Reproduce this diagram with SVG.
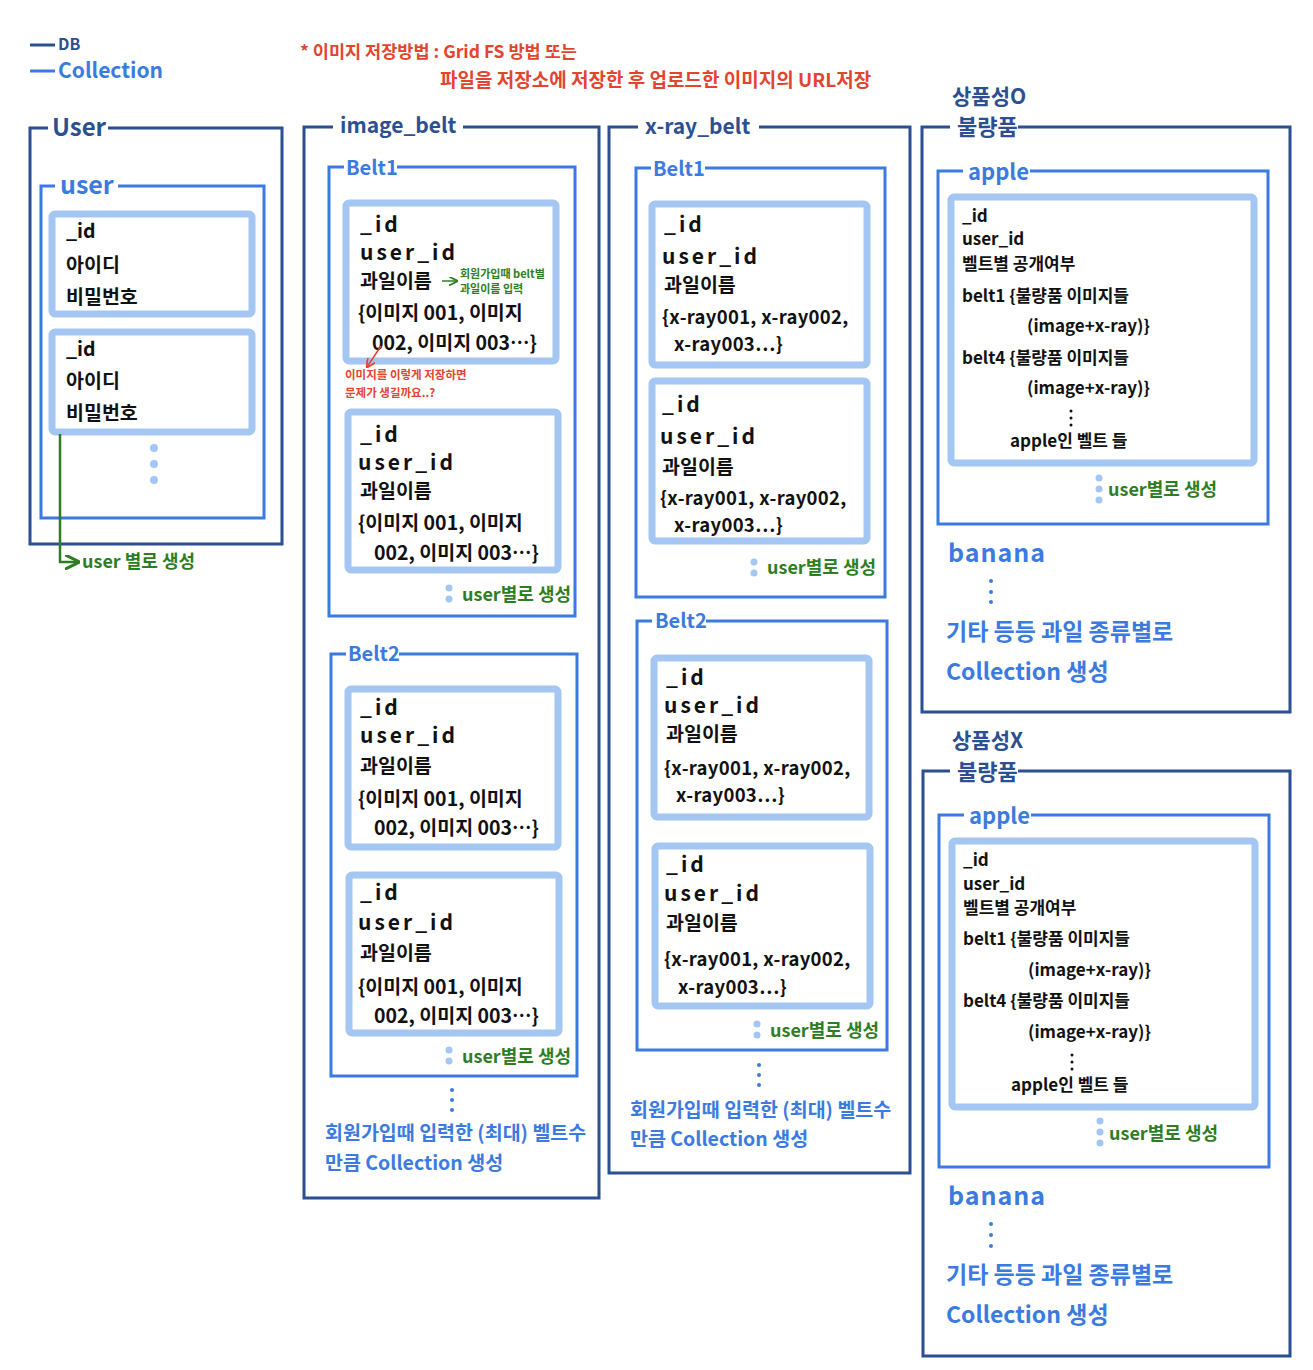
<svg xmlns="http://www.w3.org/2000/svg" width="1313" height="1370" viewBox="0 0 1313 1370">
<style>
text{font-family:"Noto Sans CJK KR","Noto Sans",sans-serif;font-weight:700}
.db{fill:none;stroke:#2b4f90;stroke-width:3}
.col{fill:none;stroke:#3b7be0;stroke-width:3}
.doc{fill:#fff;stroke:#a4c6f3;stroke-width:7}
.dbt{fill:#2b4f90;font-size:22px}
.colt{fill:#3b7be0;font-size:20px}
.k{fill:#111;font-size:19.5px}
.kb{fill:#111;font-size:21px;letter-spacing:3px}
.ks{fill:#111;font-size:17px}
.kx{fill:#111;font-size:18.5px;letter-spacing:0.3px}
.g{fill:#2e7d22;font-size:18px}
.r{fill:#e2452f}
.b{fill:#3b7be0}
.dot{fill:#a4c6f3}
.bd{fill:#3b7be0}
</style>
<defs>
<marker id="ag" viewBox="0 0 10 10" refX="9" refY="5" markerWidth="6" markerHeight="6" orient="auto"><path d="M0,0 L10,5 L0,10" fill="none" stroke="#2e7d22" stroke-width="2"/></marker>
<marker id="ar" viewBox="0 0 10 10" refX="9" refY="5" markerWidth="6" markerHeight="6" orient="auto"><path d="M0,0 L10,5 L0,10" fill="none" stroke="#e2452f" stroke-width="2"/></marker>
</defs>
<rect width="1313" height="1370" fill="#fff"/>

<!-- legend -->
<g id="legend">
<line x1="30" y1="45" x2="55" y2="45" stroke="#2b4f90" stroke-width="3"/>
<text x="58" y="50" class="dbt" style="font-size:16px">DB</text>
<line x1="30" y1="71" x2="55" y2="71" stroke="#3b7be0" stroke-width="3"/>
<text x="58" y="78" class="b" style="font-size:21px">Collection</text>
</g>
<g id="note">
<text x="300" y="58" class="r" style="font-size:17.5px">* 이미지 저장방법 : Grid FS 방법 또는</text>
<text x="440" y="87" class="r" style="font-size:19px">파일을 저장소에 저장한 후 업로드한 이미지의 URL저장</text>
</g>

<!-- User DB -->
<g id="User">
<path class="db" d="M108,128 H282 V544 H30 V128 H48"/>
<text x="52" y="136" class="dbt" style="font-size:24px">User</text>
<g id="user">
<path class="col" d="M118,186 H264 V518 H41 V186 H55"/>
<text x="60" y="194" class="colt" style="font-size:25px">user</text>
<g id="user-doc1"><rect class="doc" x="52" y="214" width="200" height="100" rx="3"/>
<text x="66" y="238" class="k">_id</text><text x="66" y="272" class="k">아이디</text><text x="66" y="304" class="k">비밀번호</text></g>
<g id="user-doc2"><rect class="doc" x="52" y="332" width="200" height="100" rx="3"/>
<text x="66" y="356" class="k">_id</text><text x="66" y="388" class="k">아이디</text><text x="66" y="420" class="k">비밀번호</text></g>
<circle class="dot" cx="154" cy="448" r="4"/><circle class="dot" cx="154" cy="464" r="4"/><circle class="dot" cx="154" cy="480" r="4"/>
</g>
</g>

<!-- image_belt DB -->
<g id="image_belt">
<path class="db" d="M463,127 H599 V1198 H304 V127 H333"/>
<text x="340" y="133" class="dbt" style="font-size:21px">image_belt</text>
<g id="ib-belt1">
<path class="col" d="M397,167 H575 V616 H329 V167 H344"/>
<text x="346" y="175" class="colt">Belt1</text>
<g id="ib-b1-doc1"><rect class="doc" x="346" y="203" width="210" height="158" rx="3"/>
<text x="360" y="232" class="kb">_id</text><text x="360" y="260" class="kb">user_id</text><text x="360" y="288" class="k">과일이름</text>
<text x="358" y="320" class="k">{이미지 001, 이미지</text><text x="372" y="350" class="k">002, 이미지 003…}</text></g>
<text x="460" y="278" class="g" style="font-size:11px">회원가입때 belt별</text>
<text x="460" y="293" class="g" style="font-size:11px">과일이름 입력</text>
<text x="345" y="379" class="r" style="font-size:11.5px">이미지를 이렇게 저장하면</text>
<text x="345" y="397" class="r" style="font-size:11.5px">문제가 생길까요..?</text>
<g id="ib-b1-doc2"><rect class="doc" x="348" y="412" width="210" height="158" rx="3"/>
<text x="360" y="442" class="kb">_id</text><text x="358" y="470" class="kb">user_id</text><text x="360" y="498" class="k">과일이름</text>
<text x="358" y="530" class="k">{이미지 001, 이미지</text><text x="374" y="560" class="k">002, 이미지 003…}</text></g>
<circle class="dot" cx="449" cy="588" r="3.5"/><circle class="dot" cx="449" cy="599" r="3.5"/>
<text x="462" y="601" class="g">user별로 생성</text>
</g>
<g id="ib-belt2">
<path class="col" d="M399,654 H577 V1076 H331 V654 H346"/>
<text x="348" y="661" class="colt">Belt2</text>
<g id="ib-b2-doc1"><rect class="doc" x="348" y="689" width="210" height="158" rx="3"/>
<text x="360" y="715" class="kb">_id</text><text x="360" y="743" class="kb">user_id</text><text x="360" y="773" class="k">과일이름</text>
<text x="358" y="806" class="k">{이미지 001, 이미지</text><text x="374" y="835" class="k">002, 이미지 003…}</text></g>
<g id="ib-b2-doc2"><rect class="doc" x="349" y="875" width="210" height="158" rx="3"/>
<text x="360" y="900" class="kb">_id</text><text x="358" y="930" class="kb">user_id</text><text x="360" y="960" class="k">과일이름</text>
<text x="358" y="994" class="k">{이미지 001, 이미지</text><text x="374" y="1023" class="k">002, 이미지 003…}</text></g>
<circle class="dot" cx="449" cy="1050" r="3.5"/><circle class="dot" cx="449" cy="1061" r="3.5"/>
<text x="462" y="1063" class="g">user별로 생성</text>
</g>
<circle class="bd" cx="452" cy="1090" r="2"/><circle class="bd" cx="452" cy="1100" r="2"/><circle class="bd" cx="452" cy="1110" r="2"/>
<text x="325" y="1140" class="b" style="font-size:19.5px">회원가입때 입력한 (최대) 벨트수</text>
<text x="325" y="1170" class="b" style="font-size:19.5px">만큼 Collection 생성</text>
</g>

<!-- x-ray_belt DB -->
<g id="x-ray_belt">
<path class="db" d="M759,127 H910 V1173 H609 V127 H638"/>
<text x="645" y="134" class="dbt" style="font-size:21px">x-ray_belt</text>
<g id="xb-belt1">
<path class="col" d="M705,168 H885 V597 H636 V168 H651"/>
<text x="653" y="176" class="colt">Belt1</text>
<g id="xb-b1-doc1"><rect class="doc" x="652" y="204" width="215" height="161" rx="3"/>
<text x="664" y="232" class="kb">_id</text><text x="662" y="264" class="kb">user_id</text><text x="664" y="292" class="k">과일이름</text>
<text x="662" y="324" class="kx">{x-ray001, x-ray002,</text><text x="674" y="351" class="kx">x-ray003…}</text></g>
<g id="xb-b1-doc2"><rect class="doc" x="652" y="381" width="215" height="160" rx="3"/>
<text x="662" y="412" class="kb">_id</text><text x="660" y="444" class="kb">user_id</text><text x="662" y="474" class="k">과일이름</text>
<text x="660" y="505" class="kx">{x-ray001, x-ray002,</text><text x="674" y="532" class="kx">x-ray003…}</text></g>
<circle class="dot" cx="754" cy="562" r="3.5"/><circle class="dot" cx="754" cy="573" r="3.5"/>
<text x="767" y="574" class="g">user별로 생성</text>
</g>
<g id="xb-belt2">
<path class="col" d="M706,621 H887 V1050 H637 V621 H652"/>
<text x="655" y="628" class="colt">Belt2</text>
<g id="xb-b2-doc1"><rect class="doc" x="654" y="658" width="215" height="159" rx="3"/>
<text x="666" y="685" class="kb">_id</text><text x="664" y="713" class="kb">user_id</text><text x="666" y="741" class="k">과일이름</text>
<text x="664" y="775" class="kx">{x-ray001, x-ray002,</text><text x="676" y="802" class="kx">x-ray003…}</text></g>
<g id="xb-b2-doc2"><rect class="doc" x="655" y="846" width="215" height="160" rx="3"/>
<text x="666" y="872" class="kb">_id</text><text x="664" y="901" class="kb">user_id</text><text x="666" y="930" class="k">과일이름</text>
<text x="664" y="966" class="kx">{x-ray001, x-ray002,</text><text x="678" y="994" class="kx">x-ray003…}</text></g>
<circle class="dot" cx="757" cy="1024" r="3.5"/><circle class="dot" cx="757" cy="1035" r="3.5"/>
<text x="770" y="1037" class="g">user별로 생성</text>
</g>
<circle class="bd" cx="759" cy="1065" r="2"/><circle class="bd" cx="759" cy="1075" r="2"/><circle class="bd" cx="759" cy="1085" r="2"/>
<text x="630" y="1117" class="b" style="font-size:19.5px">회원가입때 입력한 (최대) 벨트수</text>
<text x="630" y="1146" class="b" style="font-size:19.5px">만큼 Collection 생성</text>
</g>

<!-- 상품성O 불량품 DB -->
<g id="good-defect">
<path class="db" d="M1018,127 H1290 V712 H922 V127 H950"/>
<text x="952" y="104" class="dbt" style="font-size:21px">상품성O</text>
<text x="957" y="135" class="dbt" style="font-size:22px">불량품</text>
<g id="g-apple">
<path class="col" d="M1030,171 H1268 V524 H938 V171 H963"/>
<text x="968" y="180" class="colt" style="font-size:22px">apple</text>
<g id="g-apple-doc"><rect class="doc" x="951" y="197" width="303" height="266" rx="3"/>
<text x="962" y="222" class="ks">_id</text><text x="962" y="245" class="ks">user_id</text><text x="962" y="270" class="ks">벨트별 공개여부</text>
<text x="962" y="302" class="ks">belt1 {불량품 이미지들</text><text x="1027" y="332" class="ks">(image+x-ray)}</text>
<text x="962" y="364" class="ks">belt4 {불량품 이미지들</text><text x="1027" y="394" class="ks">(image+x-ray)}</text>
<circle cx="1071" cy="411" r="1.5" fill="#111"/><circle cx="1071" cy="418" r="1.5" fill="#111"/><circle cx="1071" cy="425" r="1.5" fill="#111"/>
<text x="1010" y="447" class="ks">apple인 벨트 들</text></g>
<circle class="dot" cx="1099" cy="478" r="3.5"/><circle class="dot" cx="1099" cy="489" r="3.5"/><circle class="dot" cx="1099" cy="500" r="3.5"/>
<text x="1108" y="496" class="g">user별로 생성</text>
</g>
<text x="948" y="562" class="b" style="font-size:25px;letter-spacing:1px">banana</text>
<circle class="bd" cx="991" cy="581" r="2"/><circle class="bd" cx="991" cy="592" r="2"/><circle class="bd" cx="991" cy="602" r="2"/>
<text x="946" y="640" class="b" style="font-size:23px">기타 등등 과일 종류별로</text>
<text x="946" y="680" class="b" style="font-size:23px">Collection 생성</text>
</g>

<!-- 상품성X 불량품 DB -->
<g id="bad-defect">
<path class="db" d="M1018,771 H1290 V1356 H923 V771 H950"/>
<text x="952" y="748" class="dbt" style="font-size:21px">상품성X</text>
<text x="957" y="780" class="dbt" style="font-size:22px">불량품</text>
<g id="b-apple">
<path class="col" d="M1031,815 H1269 V1167 H939 V815 H964"/>
<text x="969" y="824" class="colt" style="font-size:22px">apple</text>
<g id="b-apple-doc"><rect class="doc" x="952" y="841" width="303" height="266" rx="3"/>
<text x="963" y="866" class="ks">_id</text><text x="963" y="890" class="ks">user_id</text><text x="963" y="914" class="ks">벨트별 공개여부</text>
<text x="963" y="945" class="ks">belt1 {불량품 이미지들</text><text x="1028" y="976" class="ks">(image+x-ray)}</text>
<text x="963" y="1007" class="ks">belt4 {불량품 이미지들</text><text x="1028" y="1038" class="ks">(image+x-ray)}</text>
<circle cx="1072" cy="1055" r="1.5" fill="#111"/><circle cx="1072" cy="1062" r="1.5" fill="#111"/><circle cx="1072" cy="1069" r="1.5" fill="#111"/>
<text x="1011" y="1091" class="ks">apple인 벨트 들</text></g>
<circle class="dot" cx="1100" cy="1121" r="3.5"/><circle class="dot" cx="1100" cy="1132" r="3.5"/><circle class="dot" cx="1100" cy="1143" r="3.5"/>
<text x="1109" y="1140" class="g">user별로 생성</text>
</g>
<text x="948" y="1205" class="b" style="font-size:25px;letter-spacing:1px">banana</text>
<circle class="bd" cx="991" cy="1224" r="2"/><circle class="bd" cx="991" cy="1235" r="2"/><circle class="bd" cx="991" cy="1246" r="2"/>
<text x="946" y="1283" class="b" style="font-size:23px">기타 등등 과일 종류별로</text>
<text x="946" y="1323" class="b" style="font-size:23px">Collection 생성</text>
</g>

<!-- connectors -->
<g id="connectors">
<path d="M60,434 V562 H78" fill="none" stroke="#2e7d22" stroke-width="2.5" marker-end="url(#ag)"/>
<text x="82" y="568" class="g" style="font-size:18px">user 별로 생성</text>
<line x1="442" y1="281" x2="457" y2="281" stroke="#2e7d22" stroke-width="1.5" marker-end="url(#ag)"/>
<line x1="381" y1="346" x2="367" y2="367" stroke="#e2452f" stroke-width="1.5" marker-end="url(#ar)"/>
</g>
</svg>
